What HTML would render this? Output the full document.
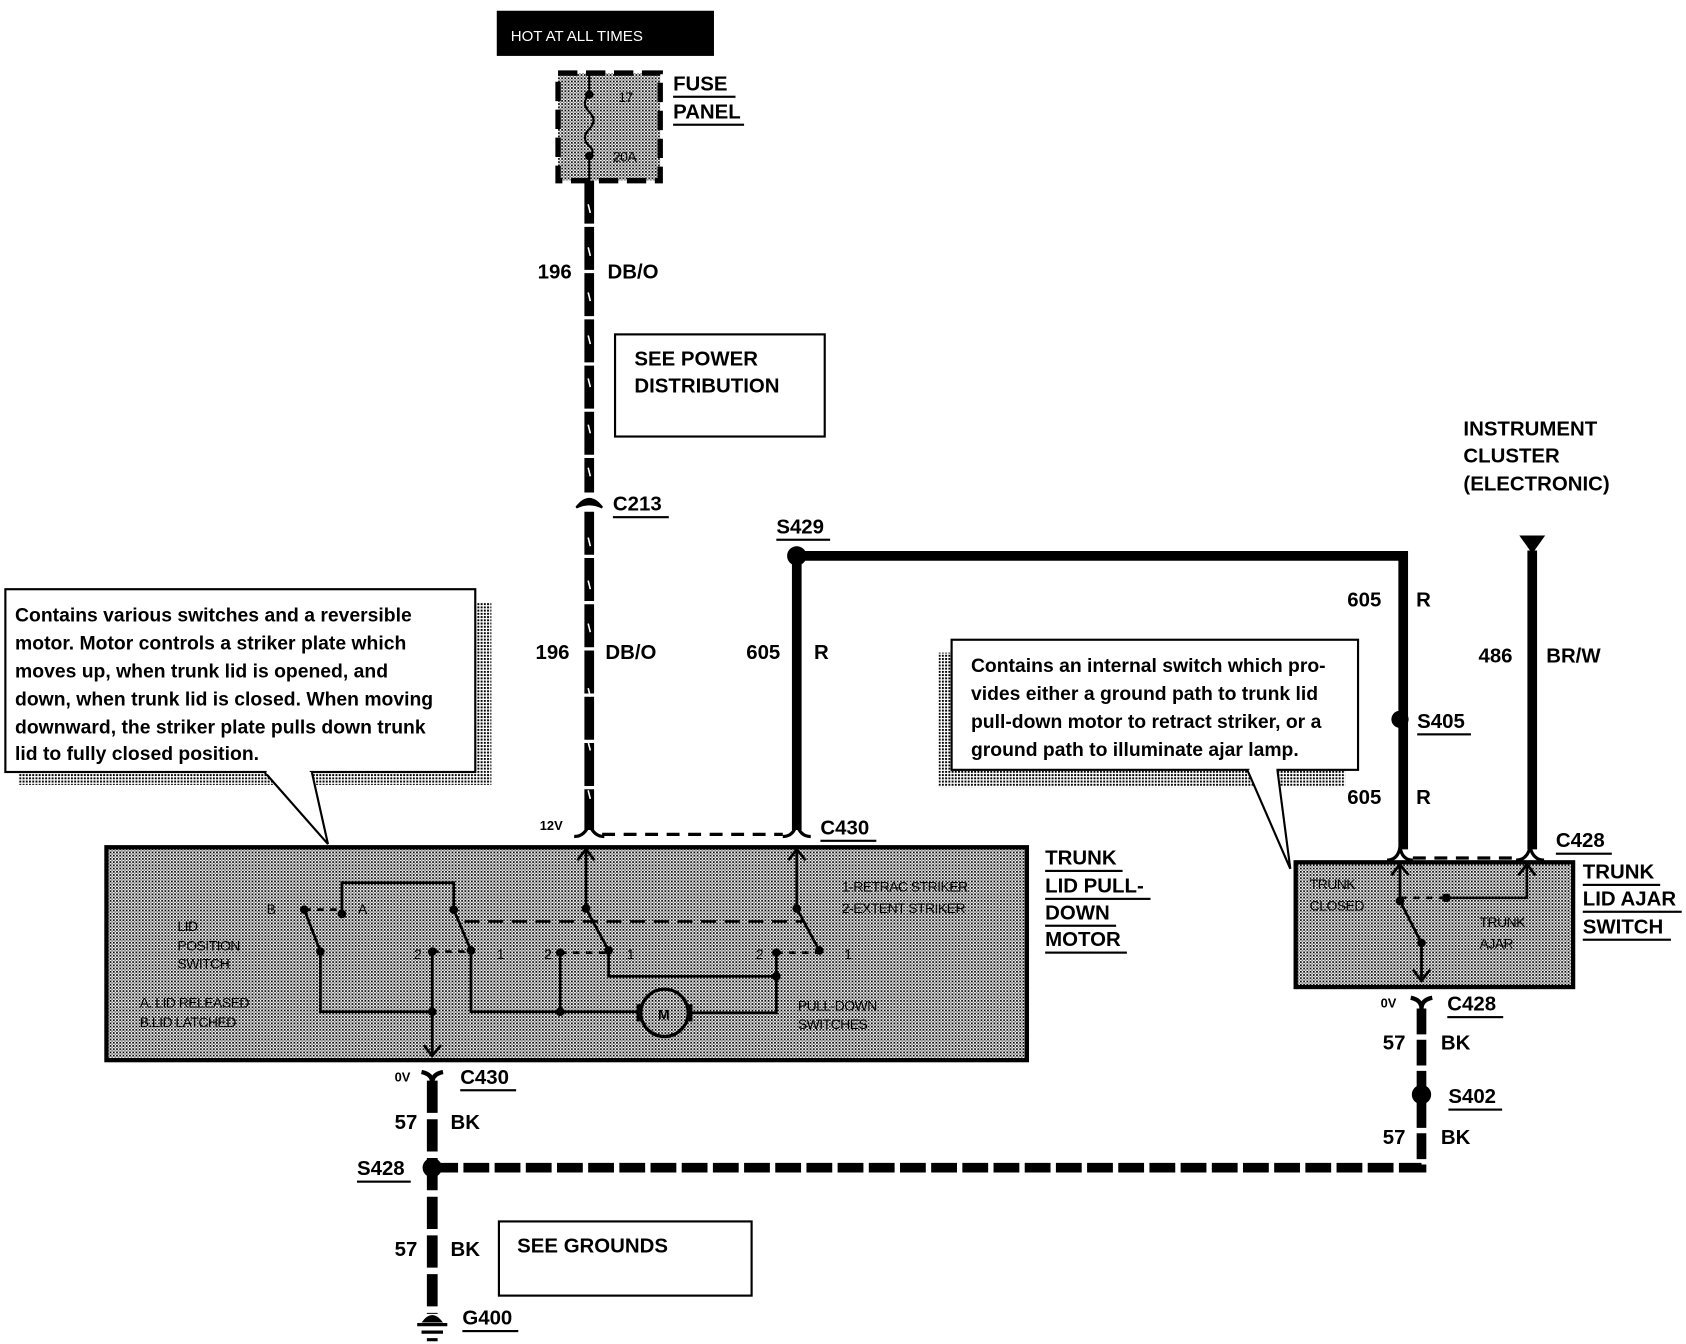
<!DOCTYPE html>
<html><head><meta charset="utf-8"><style>
html,body{margin:0;padding:0;background:#fff}
svg{display:block}
text{font-family:"Liberation Sans",Arial,sans-serif;font-weight:bold;fill:#000}
.lb{font-size:19px}
.sm{font-size:13px;font-weight:normal;letter-spacing:-0.5px}
.ct{font-size:18px;font-weight:bold}
</style></head><body>
<svg width="1686" height="1344" viewBox="0 0 1568 1250" preserveAspectRatio="none" xmlns="http://www.w3.org/2000/svg">
<defs>
<pattern id="st" width="3" height="3" patternUnits="userSpaceOnUse">
<rect width="3" height="3" fill="#fff"/><rect width="1.6" height="1.6" fill="#000"/><rect x="1.5" y="1.5" width="1.5" height="1.5" fill="#000" opacity="0.5"/>
</pattern>
<pattern id="sh" width="3" height="3" patternUnits="userSpaceOnUse">
<rect width="3" height="3" fill="#fff"/><rect width="1.8" height="1.8" fill="#000"/>
</pattern>
</defs>

<rect x="462" y="10" width="202" height="42" fill="#000"/>
<text x="475" y="38" style="font-size:14px;font-weight:normal;fill:#fff">HOT AT ALL TIMES</text>

<rect x="519" y="68" width="95" height="100" fill="url(#st)" stroke="#000" stroke-width="5" stroke-dasharray="18,8"/>
<path d="M548 68 V88 M548 145 V168" stroke="#000" stroke-width="2"/>
<path d="M548 88 q-8 8 0 16 q8 8 0 16 q-8 8 0 16 q6 5 0 9" stroke="#000" stroke-width="2" fill="none"/>
<circle cx="548" cy="88" r="4"/><circle cx="548" cy="145" r="4"/>
<text x="575" y="95" class="sm">17</text>
<text x="570" y="150" class="sm">20A</text>
<text x="626" y="84" class="lb">FUSE</text><rect x="626" y="89" width="58" height="2"/>
<text x="626" y="110" class="lb">PANEL</text><rect x="626" y="115" width="66" height="2"/>

<path d="M548 168 V458 M548 476 V772" stroke="#000" stroke-width="9" stroke-dasharray="40,3"/>
<g stroke="#fff" stroke-width="1.5">
<path d="M547 190 l2 8 M547 230 l2 8 M547 272 l2 8 M547 312 l2 8 M547 352 l2 8 M547 395 l2 8 M547 435 l2 8 M547 500 l2 8 M547 540 l2 8 M547 580 l2 8 M547 640 l2 8 M547 690 l2 8 M547 735 l2 8"/>
</g>
<path d="M536 472 q12 -16 24 0 q-12 -6 -24 0 Z" stroke="#000" stroke-width="2"/>
<text x="500" y="259" class="lb">196</text><text x="565" y="259" class="lb">DB/O</text>
<text x="570" y="475" class="lb">C213</text><rect x="570" y="480" width="52" height="2"/>
<text x="498" y="613" class="lb">196</text><text x="563" y="613" class="lb">DB/O</text>

<rect x="572" y="311" width="195" height="95" fill="#fff" stroke="#000" stroke-width="2"/>
<text x="590" y="340" class="lb">SEE POWER</text><text x="590" y="365" class="lb">DISTRIBUTION</text>

<path d="M741 517 H1305 V790 M741 517 V772" stroke="#000" stroke-width="9" fill="none"/>
<circle cx="741" cy="517" r="9"/>
<text x="722" y="496" class="lb">S429</text><rect x="722" y="501" width="50" height="2"/>
<text x="694" y="613" class="lb">605</text><text x="757" y="613" class="lb">R</text>
<text x="1253" y="564" class="lb">605</text><text x="1317" y="564" class="lb">R</text>
<circle cx="1302" cy="669" r="8"/>
<text x="1318" y="677" class="lb">S405</text><rect x="1318" y="682" width="50" height="2"/>
<text x="1253" y="748" class="lb">605</text><text x="1317" y="748" class="lb">R</text>

<text x="1361" y="405" class="lb">INSTRUMENT</text>
<text x="1361" y="430" class="lb">CLUSTER</text>
<text x="1361" y="456" class="lb">(ELECTRONIC)</text>
<path d="M1413 498 H1437 L1425 515 Z"/>
<path d="M1425 512 V790" stroke="#000" stroke-width="9"/>
<text x="1375" y="616" class="lb">486</text><text x="1438" y="616" class="lb">BR/W</text>

<g stroke="#000" stroke-width="3" fill="none">
<path d="M534 778 q10 0 14 -12 q4 12 14 12"/><path d="M728 778 q10 0 13 -12 q3 12 13 12"/>
<path d="M560 776 H728" stroke-dasharray="12,8"/>
<path d="M1290 800 q10 0 12 -12 q2 12 12 12"/><path d="M1410 800 q10 0 13 -12 q3 12 13 12"/>
<path d="M1314 798 H1410" stroke-dasharray="12,8"/>
</g>
<text x="502" y="772" style="font-size:12px;font-weight:bold">12V</text>
<text x="763" y="776" class="lb">C430</text><rect x="763" y="781" width="52" height="2"/>
<text x="1447" y="788" class="lb">C428</text><rect x="1447" y="793" width="52" height="2"/>

<rect x="17" y="560" width="440" height="170" fill="url(#sh)"/>
<path d="M262 718 L305 785 L290 718 Z" fill="url(#sh)"/>
<rect x="5" y="548" width="437" height="170" fill="#fff" stroke="#000" stroke-width="2"/>
<path d="M246 718 L305 785 L290 718" fill="#fff" stroke="#000" stroke-width="2"/>
<rect x="248" y="716" width="40" height="4" fill="#fff"/>
<text x="14" y="578" class="ct">Contains various switches and a reversible</text>
<text x="14" y="604" class="ct">motor.  Motor controls a striker plate which</text>
<text x="14" y="630" class="ct">moves up, when trunk lid is opened, and</text>
<text x="14" y="656" class="ct">down, when trunk lid is closed.  When moving</text>
<text x="14" y="682" class="ct">downward, the striker plate pulls down trunk</text>
<text x="14" y="707" class="ct">lid to fully closed position.</text>

<rect x="873" y="607" width="378" height="125" fill="url(#sh)"/>
<rect x="885" y="595" width="378" height="121" fill="#fff" stroke="#000" stroke-width="2"/>
<path d="M1160 716 L1200 808 L1188 716" fill="#fff" stroke="#000" stroke-width="2"/>
<rect x="1162" y="714" width="25" height="4" fill="#fff"/>
<text x="903" y="625" class="ct">Contains an internal switch which pro-</text>
<text x="903" y="651" class="ct">vides either a ground path to trunk lid</text>
<text x="903" y="677" class="ct">pull-down motor to retract striker, or a</text>
<text x="903" y="703" class="ct">ground path to illuminate ajar lamp.</text>

<rect x="99" y="788" width="856" height="198" fill="url(#st)" stroke="#000" stroke-width="4"/>
<text x="972" y="804" class="lb">TRUNK</text><rect x="972" y="809" width="72" height="2"/>
<text x="972" y="830" class="lb">LID PULL-</text><rect x="972" y="835" width="98" height="2"/>
<text x="972" y="855" class="lb">DOWN</text><rect x="972" y="860" width="66" height="2"/>
<text x="972" y="880" class="lb">MOTOR</text><rect x="972" y="885" width="76" height="2"/>

<g stroke="#000" stroke-width="2.5" fill="none">
<path d="M318 850 V821 H422 V846 L438 884 V941 H595"/>
<path d="M283 846 L298 885 V941 H402"/>
<path d="M402 885 V982"/>
<path d="M640 942 H722 V886"/>
<path d="M521 886 V941"/>
<path d="M545 790 V845 L566 884 V908 H722"/>
<path d="M741 790 V845 L762 884"/>
<path d="M283 846 H318 M402 885 H438 M521 886 H566 M722 886 H762" stroke-dasharray="6,6"/>
<path d="M432 857 H748" stroke-dasharray="14,8"/>
<path d="M537 800 L545 790 L553 800 M733 800 L741 790 L749 800 M394 972 L402 982 L410 972"/>
</g>
<circle cx="283" cy="846" r="4"/><circle cx="318" cy="850" r="4"/><circle cx="422" cy="846" r="4"/>
<circle cx="438" cy="884" r="4"/><circle cx="298" cy="885" r="4"/><circle cx="402" cy="885" r="4"/>
<circle cx="402" cy="941" r="4"/><circle cx="521" cy="886" r="4"/><circle cx="521" cy="941" r="4"/>
<circle cx="545" cy="845" r="4"/><circle cx="566" cy="884" r="4"/><circle cx="722" cy="886" r="4"/>
<circle cx="722" cy="908" r="4"/><circle cx="741" cy="845" r="4"/><circle cx="762" cy="884" r="4"/>
<ellipse cx="618" cy="942" rx="22" ry="22" fill="url(#st)" stroke="#000" stroke-width="3"/>
<rect x="592" y="934" width="5" height="16"/><rect x="639" y="934" width="5" height="16"/>
<text x="612" y="948" class="sm" style="font-weight:bold">M</text>
<text x="248" y="850" class="sm">B</text><text x="333" y="850" class="sm">A</text>
<text x="385" y="892" class="sm">2</text><text x="462" y="892" class="sm">1</text>
<text x="506" y="892" class="sm">2</text><text x="583" y="892" class="sm">1</text>
<text x="703" y="892" class="sm">2</text><text x="785" y="892" class="sm">1</text>
<text x="165" y="866" class="sm">LID</text><text x="165" y="884" class="sm">POSITION</text><text x="165" y="901" class="sm">SWITCH</text>
<text x="130" y="937" class="sm">A. LID RELEASED</text><text x="130" y="955" class="sm">B.LID LATCHED</text>
<text x="783" y="829" class="sm">1-RETRAC STRIKER</text><text x="783" y="849" class="sm">2-EXTENT STRIKER</text>
<text x="742" y="940" class="sm">PULL-DOWN</text><text x="742" y="957" class="sm">SWITCHES</text>

<rect x="1205" y="802" width="258" height="116" fill="url(#st)" stroke="#000" stroke-width="4"/>
<g stroke="#000" stroke-width="2.5" fill="none">
<path d="M1302 804 V838 L1322 877 V912"/>
<path d="M1420 804 V835 H1345"/>
<path d="M1302 835 H1345" stroke-dasharray="6,6"/>
<path d="M1294 814 L1302 804 L1310 814 M1412 814 L1420 804 L1428 814 M1314 902 L1322 912 L1330 902"/>
</g>
<circle cx="1302" cy="838" r="4"/><circle cx="1322" cy="877" r="4"/><circle cx="1345" cy="835" r="4"/>
<text x="1218" y="827" class="sm">TRUNK</text><text x="1218" y="847" class="sm">CLOSED</text>
<text x="1376" y="862" class="sm">TRUNK</text><text x="1376" y="882" class="sm">AJAR</text>
<text x="1472" y="817" class="lb">TRUNK</text><rect x="1472" y="822" width="72" height="2"/>
<text x="1472" y="842" class="lb">LID AJAR</text><rect x="1472" y="847" width="92" height="2"/>
<text x="1472" y="868" class="lb">SWITCH</text><rect x="1472" y="873" width="82" height="2"/>

<path d="M392 997 q10 2 10 10 q0 -8 10 -10" stroke="#000" stroke-width="4" fill="none"/>
<path d="M1312 928 q10 2 10 10 q0 -8 10 -10" stroke="#000" stroke-width="4" fill="none"/>
<text x="367" y="1006" style="font-size:12px;font-weight:bold">0V</text>
<text x="428" y="1008" class="lb">C430</text><rect x="428" y="1013" width="52" height="2"/>
<text x="1284" y="937" style="font-size:12px;font-weight:bold">0V</text>
<text x="1346" y="940" class="lb">C428</text><rect x="1346" y="945" width="52" height="2"/>

<path d="M402 1005 V1222" stroke="#000" stroke-width="10" stroke-dasharray="30,6"/>
<path d="M402 1086 H1322 V938" stroke="#000" stroke-width="9" fill="none" stroke-dasharray="24,5"/>
<circle cx="402" cy="1086" r="9"/>
<circle cx="1322" cy="1018" r="9"/>
<text x="367" y="1050" class="lb">57</text><text x="419" y="1050" class="lb">BK</text>
<text x="332" y="1093" class="lb">S428</text><rect x="332" y="1098" width="50" height="2"/>
<text x="1286" y="976" class="lb">57</text><text x="1340" y="976" class="lb">BK</text>
<text x="1347" y="1026" class="lb">S402</text><rect x="1347" y="1031" width="50" height="2"/>
<text x="1286" y="1064" class="lb">57</text><text x="1340" y="1064" class="lb">BK</text>
<text x="367" y="1168" class="lb">57</text><text x="419" y="1168" class="lb">BK</text>
<rect x="464" y="1136" width="235" height="69" fill="#fff" stroke="#000" stroke-width="2"/>
<text x="481" y="1165" class="lb">SEE GROUNDS</text>
<path d="M392 1230 q10 -14 20 0 Z"/>
<path d="M388 1232 H416 M392 1239 H412 M397 1246 H407" stroke="#000" stroke-width="3"/>
<text x="430" y="1232" class="lb">G400</text><rect x="430" y="1237" width="52" height="2"/>
</svg>
</body></html>
